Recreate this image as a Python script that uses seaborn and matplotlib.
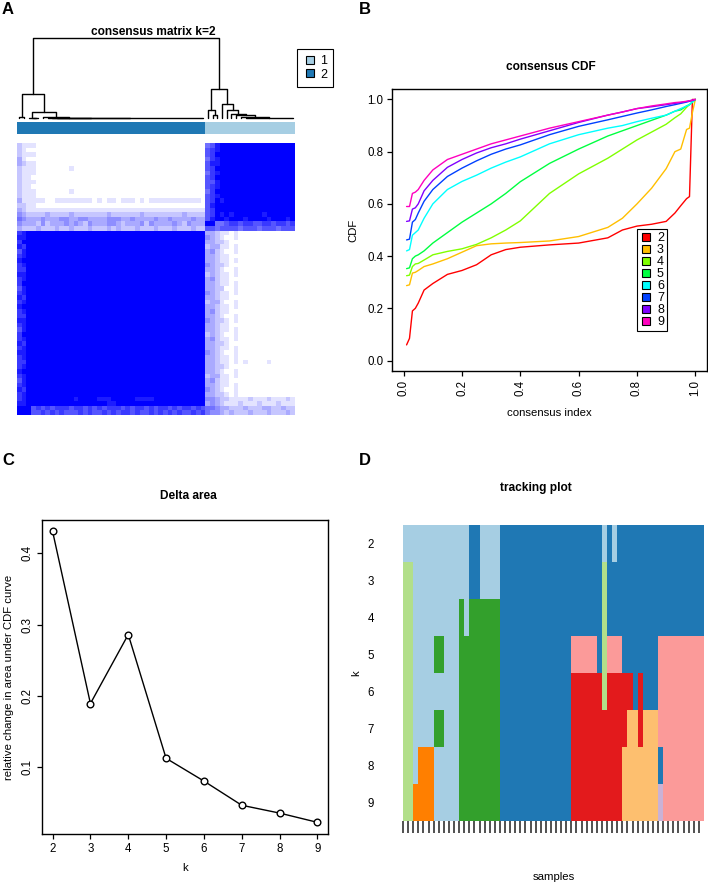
import numpy as np
import pandas as pd
import matplotlib
matplotlib.use("Agg")
import matplotlib.pyplot as plt
import seaborn as sns
from matplotlib.colors import ListedColormap
from matplotlib.lines import Line2D

# ---------------- data ----------------
# Panel A: consensus matrix (display order, top row first), levels 0..9 (white -> blue)
Z36 = "0" * 36
N16 = "9" * 16
consensus_rows = [
    "2111" + Z36 + "568" + N16,
    "21" + "0" * 38 + "678" + N16,
    "2111" + Z36 + "679" + N16,
    "31" + "0" * 38 + "578" + N16,
    "3211" + Z36 + "688" + N16,
    "2111" + "0" * 7 + "1" + "0" * 28 + "679" + N16,
    "2111" + Z36 + "578" + N16,
    "211" + "0" * 37 + "679" + N16,
    "2111" + Z36 + "668" + N16,
    "211" + "0" * 37 + "678" + N16,
    "2111" + "0" * 7 + "1" + "0" * 28 + "579" + N16,
    "2111" + Z36 + "678" + N16,
    "3111110011111111010110111010" + "1" * 11 + "0" + "6798" + "9" * 15,
    "2211" + Z36 + "689" + N16,
    "32" + "1" * 38 + "679" + N16,
    "4322223222232222222322222232222222232222" + "6798989999998999999",
    "5433343334433443333444334333343343333433" + "6899899989999899989",
    "4333242333434324333443233342433334324333" + "9955677677667767767",
    "3222322232232223222323222322232223222322" + "6656666566656665666",
    "789" + "9" * 37 + "3321101" + "0" * 12,
    "889" + "9" * 37 + "4321001" + "0" * 12,
    "799" + "9" * 37 + "3322100" + "0" * 12,
    "879" + "9" * 37 + "2331101" + "0" * 12,
    "689" + "9" * 37 + "3421001" + "0" * 12,
    "789" + "9" * 37 + "3321100" + "0" * 12,
    "899" + "9" * 37 + "3321101" + "0" * 12,
    "789" + "9" * 37 + "4322100" + "0" * 12,
    "779" + "9" * 37 + "3321001" + "0" * 12,
    "889" + "9" * 37 + "2321101" + "0" * 12,
    "789" + "9" * 37 + "3421100" + "0" * 12,
    "799" + "9" * 37 + "3321101" + "0" * 12,
    "689" + "9" * 37 + "3322001" + "0" * 12,
    "789" + "9" * 37 + "4321101" + "0" * 12,
    "879" + "9" * 37 + "3321100" + "0" * 12,
    "789" + "9" * 37 + "2331001" + "0" * 12,
    "899" + "9" * 37 + "3321101" + "0" * 12,
    "789" + "9" * 37 + "3421100" + "0" * 12,
    "779" + "9" * 37 + "3321001" + "0" * 12,
    "889" + "9" * 37 + "4322101" + "0" * 12,
    "789" + "9" * 37 + "3321100" + "0" * 12,
    "689" + "9" * 37 + "3321101" + "0" * 12,
    "799" + "9" * 37 + "2321001" + "0" * 12,
    "789" + "9" * 37 + "3421101" + "0" * 12,
    "879" + "9" * 37 + "3322100" + "0" * 12,
    "789" + "9" * 37 + "3321101" + "0" * 12,
    "889" + "9" * 37 + "4321001" + "0" * 12,
    "789" + "9" * 37 + "3321101" + "0" * 12,
    "779" + "9" * 37 + "3321101" + "0" + "1" + "0000" + "1" + "00000",
    "789" + "9" * 37 + "3322100" + "0" * 12,
    "899" + "9" * 37 + "3321001" + "0" * 12,
    "789" + "9" * 37 + "2331101" + "0" * 12,
    "689" + "9" * 37 + "3421100" + "0" * 12,
    "789" + "9" * 37 + "3321101" + "0" * 12,
    "879" + "9" * 37 + "4321001" + "0" * 12,
    "789" + "9" * 37 + "3322101" + "0" * 12,
    "789" + "9" * 9 + "8" + "9" * 4 + "888" + "9" * 5 + "8888" + "9" * 11 + "4432211112111211121",
    "889" + "9" * 16 + "88" + "9" * 19 + "3432111211121112111",
    "999" + "6767677767767676777676776767767677676" + "5543322232223322322",
    "999" + "6676767666767667676776766767676766767" + "5443232223222322232",
]
heat_cluster = "2" * 40 + "1" * 19   # column annotation (cluster of each sample)

# dendrogram of the consensus matrix: (height, left, right); int = leaf; list = zero-height group
dendro_tree = (0.95,
               (0.285, (0.01, 0, 1),
                (0.067, (0.005, 2, (0.0, 3, 4)),
                 (0.008, 5, (0.004, 6, (0.002, 7, list(range(8, 40))))))),
               (0.344, (0.099, 40, (0.032, 41, 42)),
                (0.166, 43, (0.095, 44, (0.047, 45, (0.03, 46, (0.015, 47, list(range(48, 59)))))))))

# Panel B: consensus CDF
cdf_x = [0.01, 0.02, 0.03, 0.04, 0.05, 0.07, 0.1, 0.15, 0.2, 0.25, 0.3, 0.35, 0.4,
         0.5, 0.6, 0.7, 0.75, 0.8, 0.85, 0.9, 0.93, 0.95, 0.97, 0.98, 0.99, 1.0]
cdf_k2 = [0.06, 0.085, 0.19, 0.20, 0.22, 0.27, 0.295, 0.33, 0.345, 0.367, 0.405, 0.425, 0.434,
          0.443, 0.45, 0.47, 0.50, 0.515, 0.522, 0.533, 0.565, 0.593, 0.62, 0.628, 1.0, 1.0]
cdf_k3 = [0.287, 0.29, 0.335, 0.338, 0.345, 0.36, 0.37, 0.39, 0.415, 0.44, 0.447, 0.45, 0.452,
          0.458, 0.475, 0.51, 0.545, 0.60, 0.66, 0.735, 0.80, 0.81, 0.885, 0.89, 0.95, 1.0]
cdf_k4 = [0.325, 0.327, 0.36, 0.37, 0.372, 0.385, 0.405, 0.418, 0.428, 0.445, 0.47, 0.50, 0.535,
          0.64, 0.715, 0.775, 0.81, 0.845, 0.875, 0.905, 0.93, 0.945, 0.97, 0.98, 0.99, 1.0]
cdf_k5 = [0.352, 0.355, 0.39, 0.40, 0.405, 0.42, 0.45, 0.49, 0.53, 0.565, 0.60, 0.64, 0.685,
          0.755, 0.81, 0.86, 0.88, 0.90, 0.92, 0.94, 0.955, 0.96, 0.975, 0.98, 0.99, 1.0]
cdf_k6 = [0.42, 0.425, 0.48, 0.49, 0.50, 0.545, 0.60, 0.655, 0.686, 0.71, 0.737, 0.76, 0.78,
          0.83, 0.865, 0.89, 0.90, 0.915, 0.928, 0.94, 0.955, 0.965, 0.975, 0.98, 0.99, 1.0]
cdf_k7 = [0.462, 0.465, 0.53, 0.54, 0.565, 0.61, 0.655, 0.705, 0.737, 0.765, 0.79, 0.81, 0.826,
          0.865, 0.897, 0.922, 0.935, 0.948, 0.96, 0.973, 0.98, 0.985, 0.99, 0.993, 0.996, 1.0]
cdf_k8 = [0.533, 0.535, 0.58, 0.585, 0.60, 0.65, 0.69, 0.74, 0.77, 0.795, 0.815, 0.83, 0.848,
          0.88, 0.912, 0.94, 0.952, 0.965, 0.972, 0.98, 0.985, 0.988, 0.992, 0.995, 0.997, 1.0]
cdf_k9 = [0.59, 0.59, 0.64, 0.645, 0.655, 0.69, 0.73, 0.77, 0.79, 0.81, 0.83, 0.845, 0.86,
          0.89, 0.915, 0.94, 0.952, 0.965, 0.975, 0.983, 0.988, 0.99, 0.993, 0.995, 0.997, 1.0]
cdf_curves = {2: cdf_k2, 3: cdf_k3, 4: cdf_k4, 5: cdf_k5, 6: cdf_k6, 7: cdf_k7, 8: cdf_k8, 9: cdf_k9}
rainbow_cols = ['#FF0000', '#FFBF00', '#80FF00', '#00FF40', '#00FFFF', '#0040FF', '#8000FF', '#FF00BF']

# Panel C: delta area
k_values = [2, 3, 4, 5, 6, 7, 8, 9]
delta_area = [0.431, 0.189, 0.286, 0.112, 0.080, 0.046, 0.035, 0.022]

# Panel D: tracking plot (cluster of each sample for k = 2..9)
tracking_rows = {
    2: "1" * 13 + "22" + "1111" + "2" * 20 + "1" + "2" + "1" + "2" * 17,
    3: "33" + "1" * 11 + "22" + "1111" + "2" * 20 + "3" + "2" * 19,
    4: "33" + "1" * 9 + "4" + "1" + "4" * 6 + "2" * 20 + "3" + "2" * 19,
    5: "33" + "1111" + "44" + "111" + "4" * 8 + "2" * 14 + "5" * 5 + "2" + "3" + "555" + "2" * 7 + "5" * 9,
    6: "33" + "1" * 9 + "4" * 8 + "2" * 14 + "6" * 6 + "3" + "6" * 5 + "2" + "6" + "222" + "5" * 9,
    7: "33" + "1111" + "44" + "111" + "4" * 8 + "2" * 14 + "6" * 11 + "77" + "6" + "777" + "5" * 9,
    8: "33" + "1" + "888" + "1" * 5 + "4" * 8 + "2" * 14 + "6" * 10 + "7" * 7 + "2" + "5" * 8,
    9: "33" + "8888" + "1" * 5 + "4" * 8 + "2" * 14 + "6" * 10 + "7" * 7 + "9" + "5" * 8,
}

# ---------------- figure ----------------
W, H = 708, 884
sns.set_theme(style="white")
plt.rcParams['font.family'] = ['Liberation Sans', 'DejaVu Sans']
plt.rcParams.update({'text.color': 'black', 'axes.labelcolor': 'black',
                     'xtick.color': 'black', 'ytick.color': 'black',
                     'axes.edgecolor': 'black'})
fig = plt.figure(figsize=(W / 100, H / 100), dpi=100)
paired = sns.color_palette("Paired", 9)
TICK = 8.3
LAB = 8.2
TITLE = 8.6


def box(x0, y0, x1, y1):
    return [x0 / W, 1 - y1 / H, (x1 - x0) / W, (y1 - y0) / H]


def ftext(x, y, s, **kw):
    fig.text(x / W, 1 - y / H, s, **kw)


def r_axes(ax):
    for sp in ax.spines.values():
        sp.set_visible(True)
        sp.set_color('black')
        sp.set_linewidth(1.0)
    ax.tick_params(axis='both', which='both', direction='out', length=3.8, width=0.9,
                   labelsize=TICK, bottom=True, left=True, colors='black', pad=2.5)


def place_labels(ax, bx, xlab_y, ylab_x):
    """bx = (x0, y0, x1, y1) pixel box of the axes; put label centres at given pixels"""
    x0, y0, x1, y1 = bx
    ax.xaxis.label.set_va('center')
    ax.yaxis.label.set_va('center')
    ax.xaxis.set_label_coords(0.5, (y1 - xlab_y) / (y1 - y0))
    ax.yaxis.set_label_coords((ylab_x - x0) / (x1 - x0), 0.5)


# panel labels
for lab, (x, y) in {'A': (8, 9), 'B': (365, 9), 'C': (8, 460), 'D': (365, 460)}.items():
    ftext(x, y, lab, fontsize=12, fontweight='bold', ha='center', va='center')

# ---- Panel A ----
levels = np.array([[int(ch) for ch in row] for row in consensus_rows])
blue_cmap = ListedColormap([(1 - i / 9, 1 - i / 9, 1.0) for i in range(10)])
axh = fig.add_axes(box(17, 143, 295, 415))
sns.heatmap(levels, ax=axh, cmap=blue_cmap, vmin=-0.5, vmax=9.5, cbar=False,
            xticklabels=False, yticklabels=False, rasterized=True)

axc = fig.add_axes(box(17, 122, 295, 134))
sns.heatmap(np.array([[int(c) for c in heat_cluster]]), ax=axc,
            cmap=ListedColormap([paired[0], paired[1]]), vmin=0.5, vmax=2.5, cbar=False,
            xticklabels=False, yticklabels=False)

axd = fig.add_axes(box(17, 38, 295, 118))
axd.set_xlim(0, len(heat_cluster))
axd.set_ylim(0, 0.95)
axd.axis('off')


def draw_tree(ax, node):
    if isinstance(node, int):
        return node + 0.5, 0.0
    if isinstance(node, list):
        xs = [i + 0.5 for i in node]
        ax.plot([xs[0], xs[-1]], [0, 0], color='black', lw=1.0, clip_on=False)
        return (xs[0] + xs[-1]) / 2, 0.0
    h, l, r = node
    xl, hl = draw_tree(ax, l)
    xr, hr = draw_tree(ax, r)
    ax.plot([xl, xl, xr, xr], [hl, h, h, hr], color='black', lw=1.0, clip_on=False)
    return (xl + xr) / 2, h


draw_tree(axd, dendro_tree)
ftext(153, 32, "consensus matrix k=2", fontsize=TITLE, fontweight='bold', ha='center', va='center')
legA = fig.legend(handles=[Line2D([], [], marker='s', ls='none', markersize=6,
                                  markerfacecolor=paired[i], markeredgecolor='black',
                                  markeredgewidth=0.8, label=str(i + 1)) for i in range(2)],
                  loc='upper left', bbox_to_anchor=(297 / W, 1 - 49 / H), fontsize=9,
                  frameon=True, fancybox=False, edgecolor='black', framealpha=1,
                  borderpad=0.5, handletextpad=0.35, labelspacing=0.12, handlelength=1.0,
                  borderaxespad=0)
legA.get_frame().set_linewidth(0.8)

# ---- Panel B ----
bB = (392, 89, 707, 371)
axb = fig.add_axes(box(*bB))
df_cdf = pd.DataFrame([(x, y, k) for k, ys in cdf_curves.items() for x, y in zip(cdf_x, ys)],
                      columns=['consensus index', 'CDF', 'k'])
sns.lineplot(data=df_cdf, x='consensus index', y='CDF', hue='k', palette=rainbow_cols,
             estimator=None, sort=False, lw=1.0, legend=False, ax=axb)
axb.set_xlim(-0.04, 1.04)
axb.set_ylim(-0.04, 1.04)
r_axes(axb)
ticks01 = [0.0, 0.2, 0.4, 0.6, 0.8, 1.0]
axb.set_xticks(ticks01, [f"{t:.1f}" for t in ticks01], rotation=90)
axb.set_yticks(ticks01, [f"{t:.1f}" for t in ticks01])
axb.set_xlabel("consensus index", fontsize=LAB)
axb.set_ylabel("CDF", fontsize=LAB)
place_labels(axb, bB, 413, 353)
ftext(551, 67, "consensus CDF", fontsize=TITLE, fontweight='bold', ha='center', va='center')
legB = axb.legend(handles=[Line2D([], [], marker='s', ls='none', markersize=6,
                                  markerfacecolor=c, markeredgecolor='black', markeredgewidth=0.8,
                                  label=str(k)) for k, c in zip(cdf_curves.keys(), rainbow_cols)],
                  loc='upper left', bbox_to_anchor=(637 / W, 1 - 229 / H),
                  bbox_transform=fig.transFigure, fontsize=9, frameon=True, fancybox=False,
                  edgecolor='black', framealpha=1, borderpad=0.25, handletextpad=0.35,
                  labelspacing=0.0, handlelength=1.0, borderaxespad=0)
legB.get_frame().set_linewidth(0.8)

# ---- Panel C ----
bC = (42, 520, 328, 834)
axC = fig.add_axes(box(*bC))
sns.lineplot(x=k_values, y=delta_area, ax=axC, color='black', lw=1.0, marker='o',
             markersize=4.8, markerfacecolor='white', markeredgecolor='black',
             markeredgewidth=1.0)
axC.set_xlim(1.72, 9.28)
axC.set_ylim(0.0056, 0.447)
r_axes(axC)
axC.set_xticks(k_values)
axC.set_yticks([0.1, 0.2, 0.3, 0.4], ["0.1", "0.2", "0.3", "0.4"])
axC.tick_params(axis='y', labelrotation=90)
for t in axC.get_yticklabels():
    t.set_va('center')
axC.set_xlabel("k", fontsize=LAB)
axC.set_ylabel("relative change in area under CDF curve", fontsize=LAB)
place_labels(axC, bC, 868, 9)
ftext(188, 496, "Delta area", fontsize=TITLE, fontweight='bold', ha='center', va='center')

# ---- Panel D ----
bD = (403, 525, 704, 821)
track = np.array([[int(c) for c in tracking_rows[k]] for k in k_values])
axT = fig.add_axes(box(*bD))
sns.heatmap(track, ax=axT, cmap=ListedColormap(paired), vmin=0.5, vmax=9.5, cbar=False,
            xticklabels=False, yticklabels=False)
axT.set_yticks(np.arange(len(k_values)) + 0.5, [str(k) for k in k_values], rotation=0)
axT.set_xticks(np.arange(track.shape[1]))
axT.set_xticklabels([])
axT.tick_params(axis='y', length=0, pad=21, labelsize=TICK, left=True)
axT.tick_params(axis='x', length=8.5, width=1.1, direction='out', bottom=True, colors='#222222')
axT.set_xlabel("samples", fontsize=LAB)
axT.set_ylabel("k", fontsize=LAB)
place_labels(axT, bD, 877, 356)
ftext(536, 488, "tracking plot", fontsize=TITLE, fontweight='bold', ha='center', va='center')

fig.savefig("out.png", dpi=100)
